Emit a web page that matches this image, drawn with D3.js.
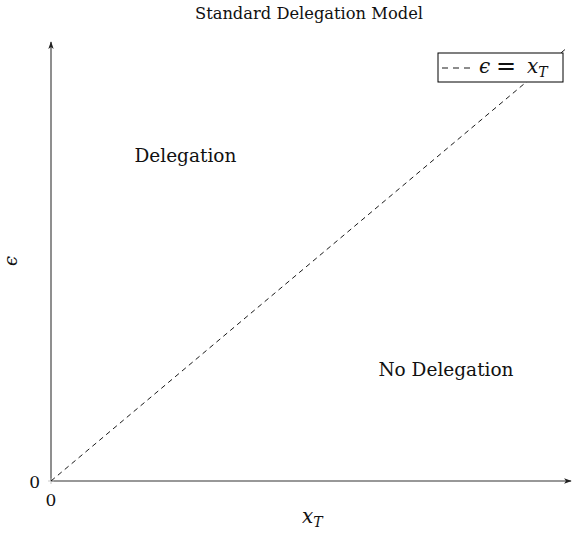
<!DOCTYPE html>
<html>
<head>
<meta charset="utf-8">
<script src="https://cdn.jsdelivr.net/npm/d3@7/dist/d3.min.js"></script>
<style>
  html, body { margin: 0; padding: 0; background: #fff; }
  svg { display: block; }
  text { font-family: "DejaVu Serif", "Liberation Serif", serif; fill: #111; }
</style>
</head>
<body>
<svg id="chart" width="573" height="538"></svg>
<script>
// Threshold line epsilon = x_T on the unit square
const lineX = [0, 1];
const lineY = [0, 1];
const xTicks = [0];
const yTicks = [0];
const regionLabels = ["Delegation", "No Delegation"];
const regionX = [0.26, 0.764];
const regionY = [0.75, 0.255];

const svg = d3.select("#chart");
const plotLeft = 51, plotRight = 568, plotTop = 47, plotBottom = 481;

const x = d3.scaleLinear().domain([0, 1]).range([plotLeft, plotRight]);
const y = d3.scaleLinear().domain([0, 1]).range([plotBottom, plotTop]);

// arrow marker for axes
svg.append("defs").append("marker")
  .attr("id", "arrow").attr("viewBox", "0 0 10 10")
  .attr("refX", 9).attr("refY", 5)
  .attr("markerWidth", 7).attr("markerHeight", 7)
  .attr("orient", "auto-start-reverse")
  .append("path").attr("d", "M0,1.5 L10,5 L0,8.5 L2.5,5 Z").attr("fill", "#222");

// title
svg.append("text").attr("x", 309).attr("y", 19)
  .attr("text-anchor", "middle").style("font-size", "16.3px")
  .text("Standard Delegation Model");

// axes
svg.append("line")
  .attr("x1", x(0)).attr("y1", y(0)).attr("x2", 571).attr("y2", y(0))
  .attr("stroke", "#333").attr("stroke-width", 1.1).attr("marker-end", "url(#arrow)");
svg.append("line")
  .attr("x1", x(0)).attr("y1", y(0)).attr("x2", x(0)).attr("y2", 42)
  .attr("stroke", "#333").attr("stroke-width", 1.1).attr("marker-end", "url(#arrow)");

// tick marks and labels
xTicks.forEach(t => {
  svg.append("line").attr("x1", x(t)).attr("x2", x(t))
    .attr("y1", y(0) - 3).attr("y2", y(0) + 3).attr("stroke", "#bbb").attr("stroke-width", 0.8);
  svg.append("text").attr("x", x(t)).attr("y", 506)
    .attr("text-anchor", "middle").style("font-size", "17px").text(String(t));
});
yTicks.forEach(t => {
  svg.append("line").attr("x1", x(0) - 3).attr("x2", x(0) + 3)
    .attr("y1", y(t)).attr("y2", y(t)).attr("stroke", "#bbb").attr("stroke-width", 0.8);
  svg.append("text").attr("x", 40).attr("y", y(t) + 7)
    .attr("text-anchor", "end").style("font-size", "17px").text(String(t));
});

// threshold line
const lineData = lineX.map((v, i) => [v, lineY[i]]);
svg.append("path").datum(lineData)
  .attr("d", d3.line().x(d => x(d[0])).y(d => y(d[1])))
  .attr("fill", "none").attr("stroke", "#000").attr("stroke-width", 0.9)
  .attr("stroke-dasharray", "5,4");

// region labels
regionLabels.forEach((lab, i) => {
  svg.append("text").attr("x", x(regionX[i])).attr("y", y(regionY[i]) + 6)
    .attr("text-anchor", "middle").style("font-size", "18.5px").text(lab);
});

// axis labels
const xl = svg.append("text").attr("x", 302).attr("y", 523)
  .style("font-size", "20px");
xl.append("tspan").style("font-style", "italic").text("x");
xl.append("tspan").style("font-style", "italic").style("font-size", "14px").attr("dy", 4).text("T");

svg.append("text").attr("transform", "translate(17,261) rotate(-90)")
  .attr("text-anchor", "middle").style("font-size", "18px").style("font-style", "italic").text("ϵ");

// legend
const lg = svg.append("g").attr("transform", "translate(438,53)");
lg.append("rect").attr("width", 125).attr("height", 29)
  .attr("fill", "#fff").attr("stroke", "#000").attr("stroke-width", 1);
lg.append("line").attr("x1", 4).attr("x2", 33).attr("y1", 15).attr("y2", 15)
  .attr("stroke", "#000").attr("stroke-width", 0.9).attr("stroke-dasharray", "6,5");
lg.append("text").attr("x", 41).attr("y", 20).style("font-size", "20px")
  .style("font-style", "italic").text("ϵ");
lg.append("text").attr("x", 68).attr("y", 21).attr("text-anchor", "middle")
  .style("font-size", "24px").text("=");
const lx = lg.append("text").attr("x", 89).attr("y", 20).style("font-size", "20px");
lx.append("tspan").style("font-style", "italic").text("x");
lx.append("tspan").style("font-style", "italic").style("font-size", "14px").attr("dy", 4).text("T");
</script>
</body>
</html>
